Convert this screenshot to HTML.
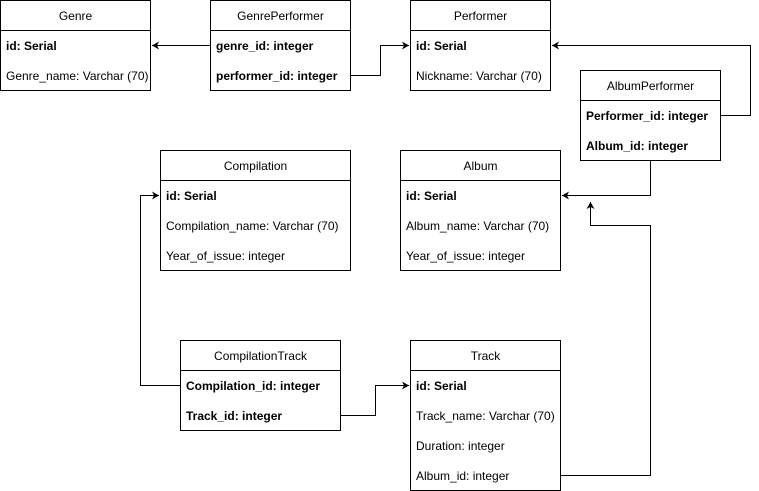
<!DOCTYPE html>
<html><head><style>
body{margin:0;width:759px;height:491px;background:#fff;position:relative;overflow:hidden;font-family:"Liberation Sans",Arial,sans-serif;font-size:12px;color:#000}
.t{position:absolute;border:1px solid #000;box-sizing:border-box;background:#fff}
.h{height:30px;line-height:30px;text-align:center;border-bottom:1px solid #000;box-sizing:border-box}
.r{height:30px;line-height:30px;padding-left:5px;white-space:nowrap;overflow:hidden}
.b{font-weight:bold}
svg{position:absolute;left:0;top:0}
</style></head><body>
<div class="t" style="left:0;top:0;width:151px;height:91px"><div class="h">Genre</div><div class="r b">id: Serial</div><div class="r">Genre_name: Varchar (70)</div></div>
<div class="t" style="left:210px;top:0;width:141px;height:91px"><div class="h">GenrePerformer</div><div class="r b">genre_id: integer</div><div class="r b">performer_id: integer</div></div>
<div class="t" style="left:410px;top:0;width:141px;height:91px"><div class="h">Performer</div><div class="r b">id: Serial</div><div class="r">Nickname: Varchar (70)</div></div>
<div class="t" style="left:580px;top:70px;width:141px;height:91px"><div class="h">AlbumPerformer</div><div class="r b">Performer_id: integer</div><div class="r b">Album_id: integer</div></div>
<div class="t" style="left:160px;top:150px;width:191px;height:121px"><div class="h">Compilation</div><div class="r b">id: Serial</div><div class="r">Compilation_name: Varchar (70)</div><div class="r">Year_of_issue: integer</div></div>
<div class="t" style="left:400px;top:150px;width:161px;height:121px"><div class="h">Album</div><div class="r b">id: Serial</div><div class="r">Album_name: Varchar (70)</div><div class="r">Year_of_issue: integer</div></div>
<div class="t" style="left:180px;top:340px;width:161px;height:91px"><div class="h">CompilationTrack</div><div class="r b">Compilation_id: integer</div><div class="r b">Track_id: integer</div></div>
<div class="t" style="left:410px;top:340px;width:151px;height:151px"><div class="h">Track</div><div class="r b">id: Serial</div><div class="r">Track_name: Varchar (70)</div><div class="r">Duration: integer</div><div class="r">Album_id: integer</div></div>
<svg width="759" height="491" viewBox="0 0 759 491">
<defs><marker id="a" markerWidth="8" markerHeight="8" refX="7" refY="4" orient="auto" markerUnits="userSpaceOnUse"><path d="M0,0 L7,4 L0,8 L2,4 z" fill="#000"/></marker></defs>
<g fill="none" stroke="#000" stroke-width="1" marker-end="url(#a)">
<path d="M210.5,45.5 H152"/>
<path d="M351,75.5 H380.5 V45.5 H409"/>
<path d="M721,115.5 H750.5 V45.5 H552"/>
<path d="M650.5,161 V195.5 H562"/>
<path d="M561,475.5 H650.5 V225.5 H590.5 V202"/>
<path d="M180,385.5 H140.5 V195.5 H159"/>
<path d="M341,415.5 H375.5 V385.5 H409"/>
</g></svg>
</body></html>
